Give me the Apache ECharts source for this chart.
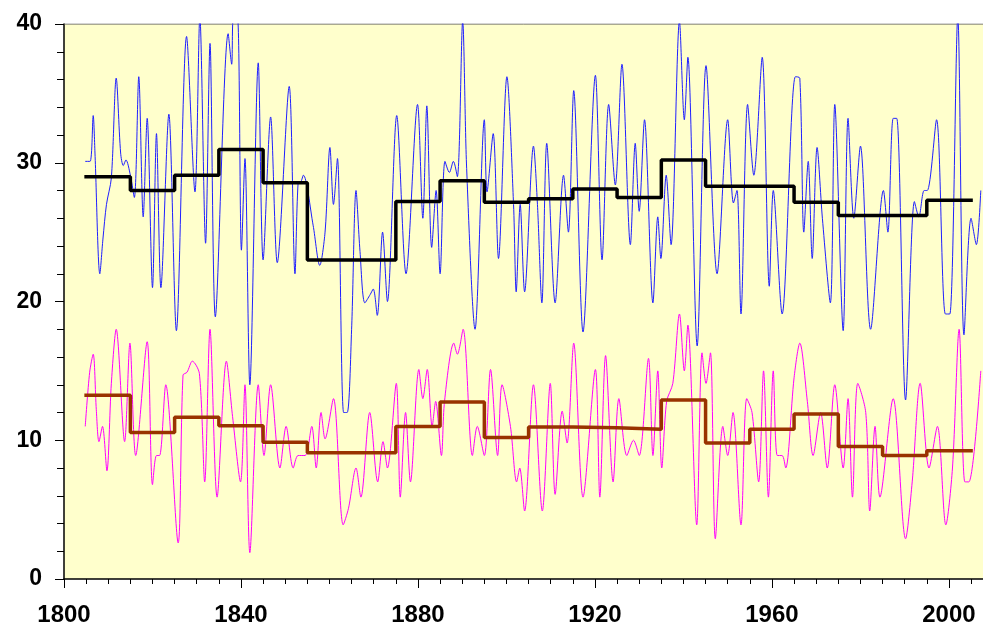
<!DOCTYPE html>
<html>
<head>
<meta charset="utf-8">
<script src="https://cdn.jsdelivr.net/npm/echarts@6/dist/echarts.min.js"></script>
<style>
  html, body { margin: 0; padding: 0; background: #fff; }
  #chart { width: 983px; height: 630px; }
</style>
</head>
<body>
<div id="chart"></div>
<script>
// upper series (blue), [year, value]
const blueSeries = [
  [1804.8,30.1],[1805.9,30.1],[1806.6,33.4],[1807.0,30.7],[1808.1,22.0],[1808.8,24.5],[1809.6,27.0],[1810.7,28.9],
  [1811.8,36.1],[1812.8,30.7],[1813.4,29.8],[1814.0,30.2],[1815.0,29.1],[1815.9,27.5],[1816.9,36.2],[1817.9,26.1],
  [1818.8,33.2],[1820.0,21.0],[1820.9,32.1],[1821.9,21.0],[1823.7,33.5],[1825.4,17.9],[1827.7,39.1],[1829.6,27.9],
  [1830.7,40.5],[1832.0,24.2],[1833.0,38.6],[1834.2,18.9],[1837.1,39.3],[1837.9,37.1],[1838.3,40.5],[1839.2,40.5],
  [1840.1,23.7],[1840.9,30.3],[1842.0,14.0],[1843.9,37.2],[1845.0,23.0],[1846.7,33.3],[1848.2,22.8],[1850.9,35.5],
  [1852.2,22.0],[1852.9,28.5],[1853.5,28.6],[1854.1,29.1],[1856.3,25.5],[1857.8,22.6],[1859.0,25.0],[1860.1,31.1],
  [1860.9,27.0],[1861.8,30.3],[1863.2,12.0],[1864.0,12.0],[1865.0,18.0],[1866.0,28.0],[1866.9,23.6],[1868.0,19.9],
  [1869.2,20.5],[1869.9,20.9],[1870.8,19.0],[1872.0,25.0],[1873.1,20.0],[1875.2,33.4],[1877.3,22.0],[1879.9,34.2],
  [1881.1,26.0],[1882.0,34.1],[1883.1,23.9],[1884.1,28.0],[1885.0,22.0],[1886.1,30.1],[1887.1,29.3],[1888.0,30.1],
  [1888.9,29.0],[1890.1,40.2],[1891.0,29.6],[1892.9,18.0],[1895.0,33.1],[1895.6,27.9],[1897.0,32.1],[1898.2,23.1],
  [1900.1,36.2],[1901.6,27.0],[1902.2,20.7],[1903.1,27.0],[1904.1,20.7],[1906.1,31.2],[1907.0,27.0],[1908.0,19.9],
  [1909.1,31.4],[1911.0,19.9],[1912.9,29.1],[1914.0,25.0],[1915.2,35.2],[1917.3,17.8],[1920.1,36.3],[1921.6,23.0],
  [1923.1,34.2],[1924.6,28.4],[1926.1,37.1],[1928.0,24.1],[1929.1,31.4],[1930.0,26.5],[1931.2,33.1],[1933.1,19.9],
  [1934.2,26.1],[1934.9,23.1],[1936.1,29.1],[1937.2,24.1],[1939.1,40.2],[1940.2,33.1],[1941.0,37.6],[1943.1,16.8],
  [1945.1,37.0],[1947.6,22.0],[1950.0,33.1],[1951.3,27.1],[1952.1,28.0],[1953.0,19.1],[1954.5,34.2],[1955.9,29.1],
  [1957.8,37.6],[1959.4,21.1],[1960.3,28.0],[1962.3,19.1],[1965.3,36.2],[1966.3,36.1],[1967.2,25.0],[1968.2,30.1],
  [1969.1,23.1],[1970.2,31.1],[1971.4,26.0],[1973.2,19.9],[1974.2,34.2],[1976.1,17.9],[1977.2,33.2],[1978.5,26.0],
  [1980.0,31.2],[1982.3,18.0],[1985.2,28.0],[1986.2,25.0],[1987.4,33.2],[1988.2,33.2],[1990.2,12.9],[1992.2,27.2],
  [1993.2,26.1],[1994.4,28.0],[1995.1,28.0],[1997.2,33.1],[1999.2,19.1],[2000.2,19.1],[2002.0,40.5],[2003.4,17.6],
  [2005.0,26.0],[2006.2,24.1],[2007.2,28.0]
];

// lower series (magenta), [year, value]
const magentaSeries = [
  [1804.8,11.0],[1805.8,14.9],[1806.6,16.2],[1807.3,12.2],[1807.9,9.9],[1808.7,11.0],[1809.7,7.8],[1810.7,14.1],
  [1811.8,18.0],[1813.7,9.9],[1814.9,17.0],[1816.2,8.9],[1818.8,17.1],[1820.0,6.8],[1820.9,8.9],[1821.6,8.9],
  [1823.0,14.0],[1825.8,2.6],[1826.9,14.7],[1827.8,14.9],[1829.0,15.7],[1830.6,14.8],[1831.8,7.0],[1833.0,18.0],
  [1834.6,5.9],[1836.7,15.7],[1838.1,11.7],[1839.9,7.0],[1840.9,14.0],[1842.0,1.9],[1843.9,14.0],[1845.2,8.9],
  [1846.7,14.0],[1848.8,8.0],[1850.2,11.0],[1851.8,8.0],[1852.9,8.9],[1854.5,8.9],[1856.0,11.0],[1857.0,8.0],
  [1858.1,12.0],[1859.0,10.1],[1860.9,13.0],[1863.1,3.9],[1864.3,5.1],[1866.0,8.0],[1867.1,5.9],[1869.1,12.0],
  [1870.9,7.0],[1872.1,9.9],[1873.1,8.0],[1875.1,14.1],[1876.0,5.9],[1877.2,12.0],[1878.3,7.0],[1880.2,15.1],
  [1881.1,13.0],[1882.1,15.1],[1883.2,11.0],[1884.0,12.8],[1885.3,8.9],[1886.0,12.8],[1888.1,17.0],[1888.9,16.2],
  [1890.2,18.0],[1892.3,8.9],[1893.4,11.0],[1895.0,8.9],[1896.4,15.1],[1898.0,8.9],[1899.0,14.0],[1900.9,11.0],
  [1902.3,7.0],[1903.0,8.0],[1904.1,4.9],[1906.1,14.0],[1908.1,4.9],[1909.9,14.1],[1911.0,6.1],[1912.6,12.1],
  [1913.7,9.8],[1915.2,17.0],[1917.3,5.9],[1920.1,15.1],[1921.1,5.9],[1922.4,16.1],[1924.1,7.0],[1925.4,13.0],
  [1927.2,8.9],[1928.7,10.0],[1930.0,8.9],[1932.1,15.9],[1933.1,8.9],[1934.2,15.0],[1935.1,8.0],[1936.2,12.8],
  [1937.6,14.1],[1939.1,19.1],[1940.2,15.0],[1941.0,18.3],[1943.0,3.9],[1944.2,16.3],[1945.1,14.1],[1946.1,16.3],
  [1947.2,2.9],[1948.9,11.0],[1950.0,8.9],[1951.2,12.0],[1953.0,3.9],[1954.3,13.0],[1955.5,12.0],[1957.0,7.0],
  [1958.1,15.0],[1959.2,5.9],[1960.3,15.0],[1961.2,8.9],[1962.3,8.9],[1963.1,8.0],[1965.0,14.5],[1966.3,17.0],
  [1968.0,12.8],[1969.3,8.9],[1971.0,12.0],[1972.5,8.0],[1974.2,14.0],[1976.1,8.0],[1977.2,13.0],[1978.2,5.9],
  [1979.4,14.1],[1981.2,12.0],[1982.1,4.9],[1983.3,11.0],[1984.4,5.9],[1987.4,13.0],[1990.2,2.9],[1991.7,7.0],
  [1993.5,14.1],[1995.5,8.0],[1997.4,11.0],[1999.3,3.9],[2000.8,8.0],[2002.3,18.0],[2003.6,7.0],[2004.5,7.0],
  [2007.2,15.0]
];

// decade means (step lines)
const stepYears = [1804.6, 1815, 1825, 1835, 1845, 1855, 1865, 1875, 1885, 1895,
                   1905, 1915, 1925, 1935, 1945, 1955, 1965, 1975, 1985, 1995];
const stepEnd = 2005.4;
const blackMeans = [29.0, 28.0, 29.1, 30.95, 28.55, 23.0, 23.0, 27.2, 28.7, 27.15,
                    27.4, 28.1, 27.5, 30.2, 28.3, 28.3, 27.15, 26.2, 26.2, 27.3];
const brownMeans = [13.25, 10.55, 11.65, 11.05, 9.85, 9.1, 9.1, 11.0, 12.75, 10.2,
                    10.95, 10.9, 10.8, 12.9, 9.8, 10.8, 11.9, 9.55, 8.9, 9.25];

const xTickLabels = [1800, 1840, 1880, 1920, 1960, 2000];
const yTickLabels = [0, 10, 20, 30, 40];

const stepData = (means) => {
  const d = stepYears.map((y, i) => [y, means[i]]);
  d.push([stepEnd, means[means.length - 1]]);
  return d;
};

const labelFont = {
  fontFamily: 'Liberation Sans, Arial, sans-serif',
  fontWeight: 'bold',
  color: '#000',
};

const chart = echarts.init(document.getElementById('chart'));

chart.setOption({
  animation: false,
  backgroundColor: '#fff',
  grid: {
    left: 64, right: 0, top: 24, bottom: 51,
    show: true,
    backgroundColor: '#FFFFCC',
    borderColor: '#555',
    borderWidth: 0,
  },
  xAxis: [
    {
      type: 'value', min: 1800, max: 2007.7, interval: 5,
      axisLine: { show: true, lineStyle: { color: '#000', width: 1.5 } },
      axisTick: { show: true, length: 5, lineStyle: { color: '#000' } },
      axisLabel: {
        ...labelFont, fontSize: 24, margin: 24, showMaxLabel: false,
        formatter: (v) => (xTickLabels.indexOf(v) >= 0 ? String(v) : ''),
      },
      splitLine: { show: false },
    },
    {
      type: 'value', min: 1800, max: 2007.7, interval: 40, position: 'bottom',
      axisLine: { show: false },
      axisTick: { show: true, length: 9, lineStyle: { color: '#000' } },
      axisLabel: { show: false },
      splitLine: { show: false },
    },
  ],
  yAxis: {
    type: 'value', min: 0, max: 40, interval: 10,
    axisLine: { show: true, lineStyle: { color: '#000', width: 1.5 } },
    axisTick: { show: true, length: 9, lineStyle: { color: '#000' } },
    minorTick: { show: true, splitNumber: 5, length: 7, lineStyle: { color: '#000' } },
    axisLabel: {
      ...labelFont, fontSize: 23, margin: 22,
      formatter: (v) => (yTickLabels.indexOf(v) >= 0 ? String(v) : ''),
    },
    splitLine: { show: false },
  },
  series: [
    {
      type: 'line', data: blueSeries, showSymbol: false, smooth: 0.3,
      lineStyle: { color: '#1f1fff', width: 1 }, z: 2,
    },
    {
      type: 'line', data: magentaSeries, showSymbol: false, smooth: 0.3,
      lineStyle: { color: '#ff00ff', width: 1 }, z: 2,
    },
    {
      type: 'line', data: stepData(blackMeans), step: 'end', showSymbol: false,
      lineStyle: { color: '#000', width: 3.5 }, z: 3,
    },
    {
      type: 'line', data: stepData(brownMeans), step: 'end', showSymbol: false,
      lineStyle: { color: '#993300', width: 3.5 }, z: 3,
    },
    {
      // top border line of the plot area
      type: 'line', data: [[1800, 40], [2007.7, 40]], showSymbol: false, silent: true,
      lineStyle: { color: '#555', width: 1 }, z: 1,
    },
  ],
});
</script>
</body>
</html>
